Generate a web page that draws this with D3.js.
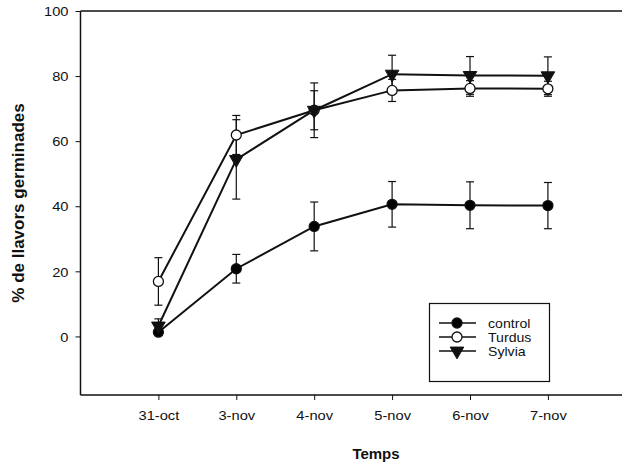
<!DOCTYPE html>
<html><head><meta charset="utf-8">
<script src="https://cdn.jsdelivr.net/npm/d3@7"></script>
<style>body{margin:0;background:#fff}svg{display:block}text{font-family:"Liberation Sans",Arial,sans-serif;fill:#111}</style>
</head><body><div id="chart"></div>
<script>
const categories = ["31-oct","3-nov","4-nov","5-nov","6-nov","7-nov"];
const yTicks = [0,20,40,60,80,100];
const controlVals = [1.3, 20.8, 33.8, 40.6, 40.3, 40.2];
const controlErr  = [1.0, 4.4, 7.5, 7.0, 7.2, 7.1];
const turdusVals  = [16.9, 61.9, 69.5, 75.6, 76.2, 76.1];
const turdusErr   = [7.3, 6.0, 6.0, 3.4, 2.4, 2.3];
const sylviaVals  = [3.2, 54.4, 69.5, 80.6, 80.2, 80.1];
const sylviaErr   = [2.2, 12.2, 8.4, 5.8, 5.8, 5.8];
const seriesNames = ["control","Turdus","Sylvia"];

const W = 622, H = 464;
const SX = 1.13; // horizontal stretch of text, as in the scanned figure
const svg = d3.select("#chart").append("svg").attr("width", W).attr("height", H);
const x = d3.scaleLinear().domain([-1, 6]).range([80.5, 625.8]);
const y = d3.scaleLinear().domain([-18, 100]).range([395, 11]);

const series = [
  {name: seriesNames[0], vals: controlVals, err: controlErr, sym: "circle", fill: "#000"},
  {name: seriesNames[1], vals: turdusVals, err: turdusErr, sym: "circle", fill: "#fff"},
  {name: seriesNames[2], vals: sylviaVals, err: sylviaErr, sym: "tri", fill: "#000"}
];

// frame lines
const g = svg.append("g");
g.append("line").attr("x1", x(-1)).attr("x2", W).attr("y1", y(100)).attr("y2", y(100)).attr("stroke","#111").attr("stroke-width",1.3);
g.append("line").attr("x1", x(-1)).attr("x2", W).attr("y1", y(-18)).attr("y2", y(-18)).attr("stroke","#111").attr("stroke-width",1.5);

// y axis
const yAxis = d3.axisLeft(y).tickValues(yTicks).tickSize(5).tickPadding(7);
const ya = svg.append("g").attr("transform", `translate(${x(-1)},0)`).call(yAxis);
ya.select(".domain").attr("stroke","#111").attr("stroke-width",1.5).attr("d", `M0,${y(100)}V${y(-18)}`);
ya.selectAll(".tick line").attr("stroke","#111");
ya.selectAll(".tick text").style("font-size","13px").attr("fill","#111")
  .attr("x", null).attr("dy","0.36em").attr("transform", `translate(-12,0) scale(${SX},1)`);

// x axis
const xAxis = d3.axisBottom(x).tickValues(d3.range(categories.length)).tickFormat(i => categories[i]).tickSize(5).tickPadding(11);
const xa = svg.append("g").attr("transform", `translate(0,${y(-18)})`).call(xAxis);
xa.select(".domain").remove();
xa.selectAll(".tick line").attr("stroke","#111");
xa.selectAll(".tick text").style("font-size","13px").attr("fill","#111")
  .attr("transform", `scale(${SX},1)`);

// axis titles
svg.append("text").attr("x", 376).attr("y", 459).attr("text-anchor","middle")
  .style("font-size","15px").style("font-weight","bold").text("Temps");
svg.append("text").attr("transform", `translate(24,203) rotate(-90)`).attr("text-anchor","middle")
  .style("font-size","17px").style("font-weight","bold").text("% de llavors germinades");

// error bars
const eg = svg.append("g").attr("stroke","#111").attr("stroke-width",1.2);
series.forEach(s => {
  s.vals.forEach((v,i) => {
    const cx = x(i), t = y(v + s.err[i]), b = y(v - s.err[i]);
    eg.append("line").attr("x1",cx).attr("x2",cx).attr("y1",t).attr("y2",b);
    eg.append("line").attr("x1",cx-4).attr("x2",cx+4).attr("y1",t).attr("y2",t);
    eg.append("line").attr("x1",cx-4).attr("x2",cx+4).attr("y1",b).attr("y2",b);
  });
});

// lines
const line = d3.line().x((d,i) => x(i)).y(d => y(d));
series.forEach(s => {
  svg.append("path").attr("d", line(s.vals)).attr("fill","none").attr("stroke","#111").attr("stroke-width",2);
});

const triSym = d3.symbol().type(d3.symbolTriangle).size(80);
function marker(sel, s, cx, cy) {
  if (s.sym === "circle") {
    sel.append("circle").attr("cx",cx).attr("cy",cy).attr("r",5).attr("fill",s.fill).attr("stroke","#111").attr("stroke-width",1.3);
  } else {
    sel.append("path").attr("d", triSym()).attr("transform",`translate(${cx},${cy}) rotate(180)`).attr("fill","#111").attr("stroke","#111").attr("stroke-width",1);
  }
}
series.forEach(s => {
  const mg = svg.append("g");
  s.vals.forEach((v,i) => marker(mg, s, x(i), y(v)));
});

// legend
const lg = svg.append("g");
lg.append("rect").attr("x",429.5).attr("y",303.5).attr("width",120).attr("height",78).attr("fill","#fff").attr("stroke","#111").attr("stroke-width",1.2);
series.forEach((s,k) => {
  const ly = 323 + k*14;
  lg.append("line").attr("x1",439).attr("x2",476).attr("y1",ly).attr("y2",ly).attr("stroke","#111").attr("stroke-width",1.6);
  marker(lg, s, 457, ly);
  lg.append("text").attr("transform", `translate(488,${ly}) scale(${SX},1)`).attr("dy","0.36em")
    .style("font-size","12.5px").text(s.name);
});
</script></body></html>
